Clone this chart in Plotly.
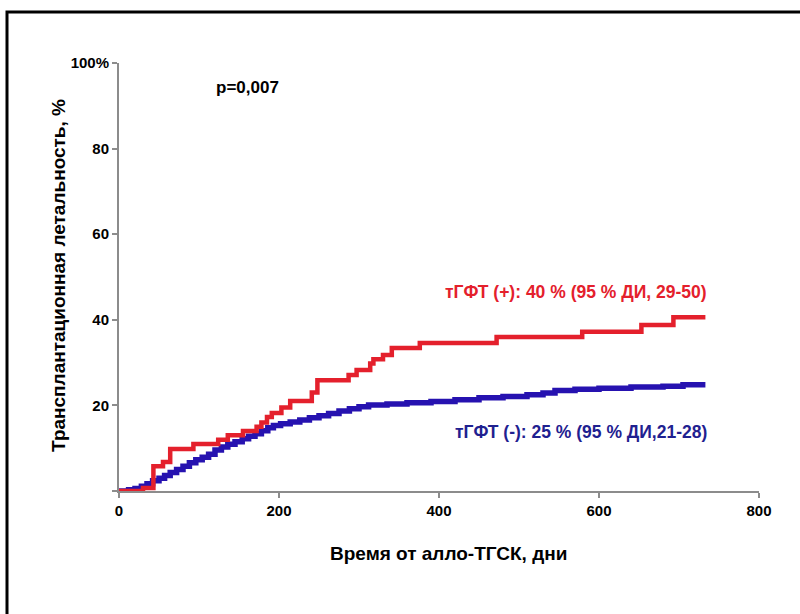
import plotly.graph_objects as go

# Cumulative transplant-related mortality (step curves), days vs %
days_pos = [0, 30, 43, 55, 64, 93, 124, 136, 155, 172, 178, 185, 191, 203, 214,
            241, 248, 287, 297, 314, 318, 330, 341, 376, 472, 579, 653, 693, 733]
mort_pos = [0, 0.7, 5.8, 6.8, 9.8, 11.0, 12.0, 13.0, 14.0, 15.0, 16.0, 17.3, 18.2, 19.5, 21.0,
            23.0, 25.9, 27.1, 28.3, 29.8, 30.8, 31.8, 33.4, 34.6, 36.0, 37.2, 38.8, 40.6, 40.6]

days_neg = [0, 12, 20, 28, 35, 42, 50, 57, 64, 72, 80, 88, 96, 104, 112, 120, 128, 136,
            145, 154, 162, 170, 178, 186, 193, 202, 214, 226, 238, 250, 262, 275, 288,
            300, 312, 335, 360, 390, 420, 450, 480, 510, 530, 545, 570, 600, 640, 680,
            705, 733]
mort_neg = [0, 0.3, 0.6, 1.1, 1.7, 2.4, 3.0, 3.6, 4.3, 5.0, 5.8, 6.6, 7.3, 7.9, 8.6, 9.6,
            10.3, 10.9, 11.5, 12.2, 12.8, 13.4, 14.1, 14.8, 15.3, 15.7, 16.1, 16.6, 17.1,
            17.6, 18.1, 18.7, 19.2, 19.7, 20.1, 20.3, 20.6, 20.9, 21.3, 21.8, 22.1, 22.5,
            22.9, 23.5, 23.8, 24.0, 24.3, 24.5, 24.8, 24.8]

x_ticks = [0, 200, 400, 600, 800]
y_ticks = [0, 20, 40, 60, 80, 100]
y_ticktext = ["", "20", "40", "60", "80", "100%"]

label_pos = "тГФТ (+): 40 % (95 % ДИ, 29-50)"
label_neg = "тГФТ (-): 25 % (95 % ДИ,21-28)"
p_text = "p=0,007"
x_title = "Время от алло-ТГСК, дни"
y_title = "Трансплантационная летальность, %"

RED = "#e4202c"
BLUE = "#2612b0"
NAVY = "#1f2190"
AXIS = "#8c8c8c"
FONT = "Liberation Sans, Arial, sans-serif"

fig = go.Figure()
fig.add_trace(go.Scatter(x=days_neg, y=mort_neg, mode="lines", line_shape="hv",
                         line=dict(color=BLUE, width=5.5), hoverinfo="skip"))
fig.add_trace(go.Scatter(x=days_pos, y=mort_pos, mode="lines", line_shape="hv",
                         line=dict(color=RED, width=4.5), hoverinfo="skip"))

tick_font = dict(size=15, family=FONT, color="black", weight="bold")
fig.update_layout(
    width=800, height=614,
    margin=dict(l=119, r=41, t=63, b=123),
    paper_bgcolor="white", plot_bgcolor="white",
    showlegend=False,
    font=dict(family=FONT, color="black"),
    xaxis=dict(range=[0, 800], tickvals=x_ticks, showgrid=False, zeroline=False,
               showline=True, linecolor=AXIS, linewidth=2,
               ticks="outside", ticklen=5, tickcolor=AXIS, tickwidth=2,
               tickfont=tick_font),
    yaxis=dict(range=[0, 100], tickvals=y_ticks, ticktext=y_ticktext, showgrid=False,
               zeroline=False, showline=True, linecolor=AXIS, linewidth=2,
               ticks="outside", ticklen=5, tickcolor=AXIS, tickwidth=2,
               tickfont=tick_font),
)

def note(text, x, y, color, size, xanchor="left", angle=0):
    fig.add_annotation(text=text, x=x, y=y, xref="paper", yref="paper",
                       showarrow=False, xanchor=xanchor, yanchor="middle",
                       textangle=angle,
                       font=dict(family=FONT, size=size, color=color, weight="bold"))

# paper coords: px_x = 119 + 640*xp, px_y = 491 - 428*yp
note(p_text, (214 - 119) / 640, (491 - 87) / 428, "black", 17)
note(label_pos, (443 - 119) / 640, (491 - 292) / 428, RED, 17.5)
note(label_neg, (453 - 119) / 640, (491 - 432) / 428, NAVY, 17.5)
note(x_title, (448 - 119) / 640, (491 - 553) / 428, "black", 19, xanchor="center")
note(y_title, (58 - 119) / 640, (491 - 276) / 428, "black", 19, xanchor="center", angle=-90)

# black frame around the figure
fig.add_shape(type="rect", xref="paper", yref="paper",
              x0=(7 - 119) / 640, x1=1.3, y0=-0.6, y1=(491 - 12) / 428,
              line=dict(color="black", width=3), layer="above")

fig.write_html("out.html")
